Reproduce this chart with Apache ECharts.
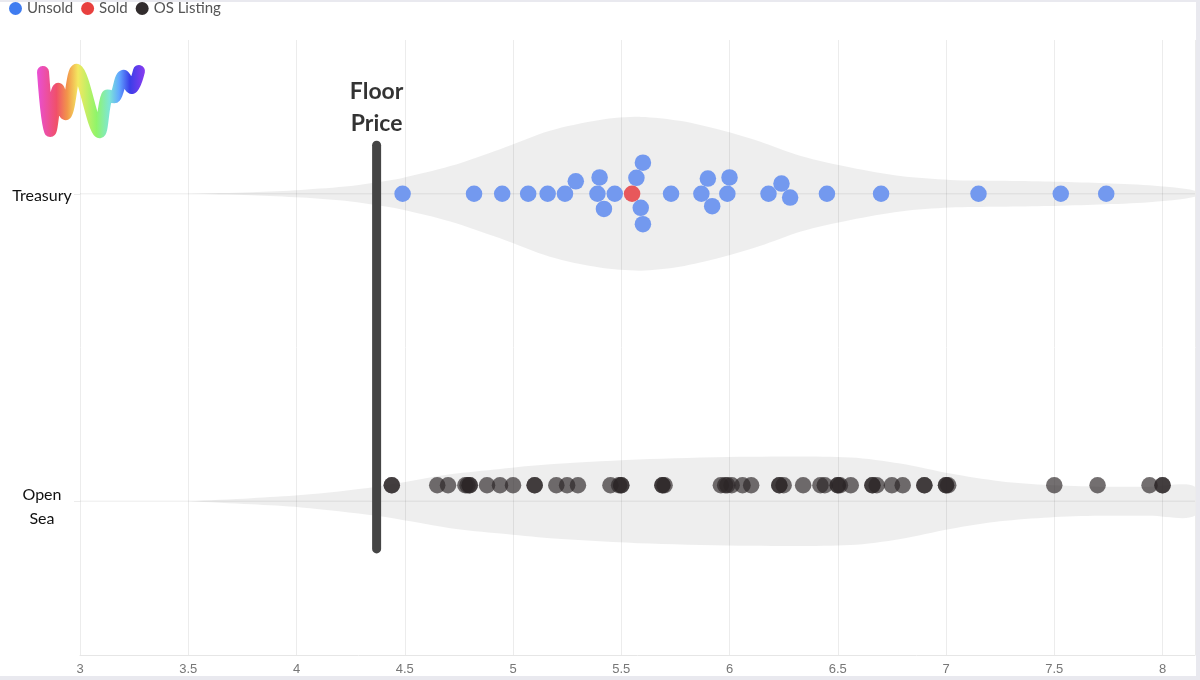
<!DOCTYPE html>
<html>
<head>
<meta charset="utf-8">
<script src="https://cdn.jsdelivr.net/npm/echarts@6/dist/echarts.min.js"></script>
<style>
html,body{margin:0;padding:0;background:#fff;}
#wrap{position:relative;width:1200px;height:680px;overflow:hidden;}
#chart{position:absolute;left:0;top:0;width:1200px;height:680px;}
.bar{position:absolute;background:#e9e9ef;}
</style>
</head>
<body>
<div id="wrap">
  <div id="chart"></div>
  <div class="bar" style="left:0;top:0;width:1200px;height:2px;"></div>
  <div class="bar" style="left:1196px;top:0;width:4px;height:680px;"></div>
  <div class="bar" style="left:0;top:676px;width:1200px;height:4px;"></div>
</div>
<script>
// ---------------- DATA ----------------
const categories = ['Open Sea', 'Treasury'];
const legendNames = ['Unsold', 'Sold', 'OS Listing'];

const treasuryUnsold = [4.49, 4.82, 4.95, 5.07, 5.16, 5.24, 5.29, 5.39, 5.40, 5.42, 5.47,
  5.57, 5.59, 5.60, 5.60, 5.73, 5.87, 5.90, 5.92, 5.99, 6.00, 6.18, 6.24, 6.28,
  6.45, 6.70, 7.15, 7.53, 7.74];
const treasurySold = [5.55];

const openSeaListings = [4.44, 4.44, 4.65, 4.70, 4.78, 4.79, 4.80, 4.80, 4.88, 4.94, 5.00,
  5.10, 5.10, 5.20, 5.25, 5.30, 5.45, 5.49, 5.50, 5.50, 5.69, 5.69, 5.70,
  5.96, 5.98, 5.99, 6.01, 6.06, 6.10, 6.23, 6.23, 6.25, 6.34, 6.42, 6.44, 6.50, 6.50, 6.51,
  6.56, 6.66, 6.66, 6.68, 6.75, 6.80, 6.90, 6.90, 7.00, 7.00, 7.01, 7.50, 7.70, 7.94, 8.00, 8.00];

const floorPrice = 4.37;

// violin density profiles (relative density, peak of Treasury = 1)
const treasuryDensityX = [3.50, 3.79, 4.02, 4.25, 4.37, 4.48, 4.71, 4.94, 5.17, 5.40, 5.59, 5.77, 5.96, 6.14, 6.33, 6.56, 6.79, 7.02, 7.25, 7.48, 7.71, 7.94, 8.15];
const treasuryDensity  = [0.00, 0.02, 0.05, 0.10, 0.15, 0.20, 0.36, 0.58, 0.82, 0.96, 1.00, 0.95, 0.83, 0.68, 0.49, 0.34, 0.23, 0.18, 0.17, 0.16, 0.14, 0.11, 0.04];
const openSeaDensityX  = [3.50, 3.79, 4.02, 4.37, 4.71, 4.94, 5.17, 5.63, 6.10, 6.56, 6.79, 7.02, 7.25, 7.48, 7.71, 7.94, 8.15];
const openSeaDensity   = [0.00, 0.04, 0.08, 0.19, 0.35, 0.42, 0.48, 0.55, 0.58, 0.57, 0.49, 0.36, 0.26, 0.21, 0.19, 0.19, 0.19];

// ---------------- CHART ----------------
const X_MIN = 3, X_MAX = 8.15;
const catCenter = name => categories.indexOf(name) + 0.5; // on hidden value y-axis (0..2)

const violins = [
  { center: catCenter('Treasury'), x: treasuryDensityX, d: treasuryDensity },
  { center: catCenter('Open Sea'), x: openSeaDensityX, d: openSeaDensity }
];

const chart = echarts.init(document.getElementById('chart'), null, { renderer: 'canvas' });

const logoGradient = new echarts.graphic.LinearGradient(0, 0, 1, 0, [
  { offset: 0.00, color: '#e94fd6' },
  { offset: 0.18, color: '#f0506a' },
  { offset: 0.28, color: '#f2954a' },
  { offset: 0.38, color: '#f3e860' },
  { offset: 0.55, color: '#90f56a' },
  { offset: 0.67, color: '#7ee6d6' },
  { offset: 0.76, color: '#62a8ff' },
  { offset: 0.86, color: '#3a3ee8' },
  { offset: 1.00, color: '#8a3cf0' }
]);

const baseOption = {
  animation: false,
  backgroundColor: '#fff',
  textStyle: { fontFamily: 'Lato, "Noto Sans", sans-serif' },
  legend: {
    data: [
      { name: 'Unsold', itemStyle: { color: '#3f7cf0', opacity: 1 } },
      { name: 'Sold', itemStyle: { color: '#e8403e', opacity: 1 } },
      { name: 'OS Listing', itemStyle: { color: '#312c2d', opacity: 1 } }
    ],
    left: 4, top: 1, padding: [0, 5, 5, 5],
    icon: 'circle', itemWidth: 13, itemHeight: 13, itemGap: 8,
    textStyle: { fontSize: 15, color: '#555', fontFamily: 'Lato, sans-serif' }
  },
  grid: { left: 80, right: 5, top: 40, bottom: 25, outerBoundsMode: 'none' },
  xAxis: {
    type: 'value', min: X_MIN, max: X_MAX, interval: 0.5,
    axisLine: { show: true, lineStyle: { color: '#e6e6e6', width: 1 } },
    axisTick: { show: false },
    axisLabel: { showMaxLabel: false, color: '#777', fontSize: 13, margin: 8,
      fontFamily: '"Liberation Sans Narrow", "Arial Narrow", sans-serif' },
    splitLine: { show: true, lineStyle: { color: '#ececec', width: 1 } }
  },
  yAxis: [
    {
      type: 'category', data: categories, boundaryGap: true,
      axisLine: { show: false },
      axisTick: { show: true, alignWithLabel: true, length: 6, lineStyle: { color: '#ececec' } },
      splitLine: { show: false },
      axisLabel: {
        margin: 38, align: 'center', color: '#111', fontSize: 16, lineHeight: 24,
        fontFamily: 'Lato, sans-serif',
        formatter: v => v === 'Open Sea' ? '{s| }\n{a|Open}\n{a|Sea}' : '{s2| }\n{a|' + v + '}',
        rich: {
          a: { fontSize: 16, lineHeight: 24, color: '#111', fontFamily: 'Lato, sans-serif', align: 'center' },
          s: { fontSize: 6, lineHeight: 12 },
          s2: { fontSize: 2, lineHeight: 4 }
        }
      }
    },
    { type: 'value', min: 0, max: 2, show: false }
  ],
  graphic: [
    {
      type: 'polyline', z: 100,
      shape: { points: [[43, 72], [50, 131], [58, 89], [66, 114], [77, 70], [99, 132], [107, 96], [115, 97], [123, 76], [132, 88], [139, 71]], smooth: 0.35 },
      style: { stroke: logoGradient, lineWidth: 12, lineCap: 'round', lineJoin: 'round', fill: null }
    }
  ],
  series: [
    {
      name: 'violin', type: 'custom', xAxisIndex: 0, yAxisIndex: 1, clip: true, z: 1,
      silent: true,
      data: violins.map(v => [v.x[0], v.center]),
      renderItem: function (params, api) {
        const vi = violins[params.dataIndex];
        const unit = api.size([0, 1])[1];
        const top = [], bot = [];
        vi.x.forEach((x, i) => {
          const c = api.coord([x, vi.center]);
          const h = vi.d[i] * 0.25 * unit;
          top.push([c[0], c[1] - h]);
          bot.push([c[0], c[1] + h]);
        });
        const pts = top.concat(bot.reverse());
        const cs = params.coordSys;
        const cy = api.coord([X_MIN, vi.center])[1];
        return {
          type: 'group',
          children: [
            { type: 'polygon', shape: { points: pts, smooth: 0.3 }, style: { fill: 'rgba(0,0,0,0.065)' } },
            { type: 'line', shape: { x1: cs.x, y1: cy, x2: cs.x + cs.width, y2: cy }, style: { stroke: 'rgba(0,0,0,0.05)', lineWidth: 1.5 } }
          ]
        };
      }
    },
    {
      name: 'floor', type: 'line', xAxisIndex: 0, yAxisIndex: 1, z: 3,
      symbol: 'none', silent: true,
      data: [[floorPrice, catCenter('Open Sea') - 0.155], [floorPrice, catCenter('Treasury') + 0.158]],
      lineStyle: { color: '#454545', width: 9, cap: 'round' }
    },
    {
      name: 'floorLabel', type: 'scatter', xAxisIndex: 0, yAxisIndex: 1, z: 3,
      symbolSize: 1, itemStyle: { color: 'rgba(0,0,0,0)' }, silent: true,
      data: [[floorPrice, catCenter('Treasury') + 0.158]],
      label: { show: true, position: 'top', distance: 5, formatter: 'Floor\nPrice',
        fontSize: 23, fontWeight: 'bold', color: '#000', lineHeight: 32, align: 'center',
        fontFamily: 'Lato, sans-serif' }
    },
    { name: 'Unsold', type: 'scatter', xAxisIndex: 0, yAxisIndex: 1, z: 5, symbolSize: 16.5,
      itemStyle: { color: '#7399ef', opacity: 1 }, data: [] },
    { name: 'Sold', type: 'scatter', xAxisIndex: 0, yAxisIndex: 1, z: 5, symbolSize: 16.5,
      itemStyle: { color: '#e8585b', opacity: 1 }, data: [] },
    { name: 'OS Listing', type: 'scatter', xAxisIndex: 0, yAxisIndex: 1, z: 5, symbolSize: 16.5,
      symbolOffset: [0, -16],
      itemStyle: { color: '#2a2526', opacity: 0.66 }, data: [] }
  ]
};

chart.setOption(baseOption);

// ---------------- BEESWARM LAYOUT (via axis scales) ----------------
const pxX = v => chart.convertToPixel({ xAxisIndex: 0 }, v);
const pxY = v => chart.convertToPixel({ yAxisIndex: 1 }, v);
const unitY = pxY(0) - pxY(1);
const D = 16.5;

const pts = treasuryUnsold.map(v => ({ v, s: 'Unsold' }))
  .concat(treasurySold.map(v => ({ v, s: 'Sold' })));
pts.forEach(p => { p.x = pxX(p.v); });
pts.sort((a, b) => a.x - b.x);
const placed = [];
pts.forEach(p => {
  const cands = [0];
  placed.forEach(q => {
    const dx = Math.abs(p.x - q.x);
    if (dx < D) {
      const h = Math.sqrt(D * D - dx * dx);
      cands.push(q.y - h, q.y + h);
    }
  });
  cands.sort((a, b) => (Math.abs(a) - Math.abs(b)) || (a - b));
  let y = 0;
  for (const c of cands) {
    const ok = placed.every(q => {
      const dx = p.x - q.x, dy = c - q.y;
      return dx * dx + dy * dy >= D * D - 1e-6;
    });
    if (ok) { y = c; break; }
  }
  p.y = y;
  placed.push(p);
});

const tCenter = catCenter('Treasury');
const unsoldData = pts.filter(p => p.s === 'Unsold').map(p => [p.v, tCenter - p.y / unitY]);
const soldData = pts.filter(p => p.s === 'Sold').map(p => [p.v, tCenter - p.y / unitY]);
const osData = openSeaListings.map(v => [v, catCenter('Open Sea')]);

chart.setOption({
  series: [
    { name: 'Unsold', data: unsoldData },
    { name: 'Sold', data: soldData },
    { name: 'OS Listing', data: osData }
  ]
});
</script>
</body>
</html>
